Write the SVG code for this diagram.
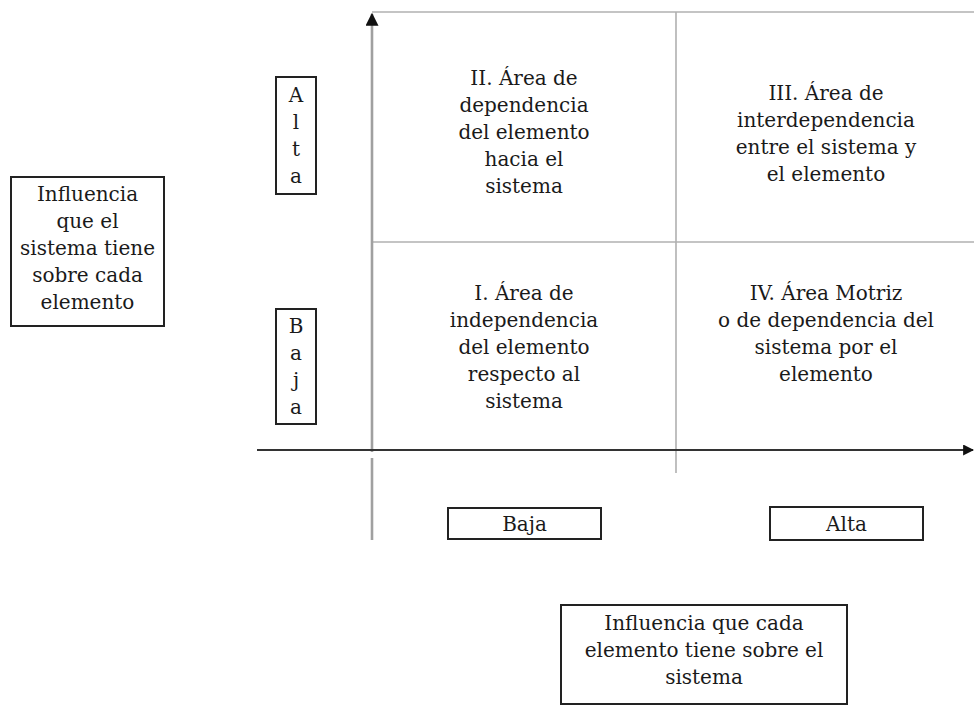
<svg xmlns="http://www.w3.org/2000/svg" width="974" height="705" viewBox="0 0 974 705">
<style>
text{font-family:"DejaVu Serif","Liberation Serif",serif;font-size:20px;fill:#1a1a1a;text-anchor:middle}
.box{fill:#fff;stroke:#222;stroke-width:2}
.grid{stroke:#b0b0b0;stroke-width:1.6;fill:none}
.vaxis{stroke:#a0a0a0;stroke-width:2.6;fill:none}
.haxis{stroke:#333;stroke-width:2.2;fill:none}
</style>
<defs>
<marker id="arr" viewBox="0 0 10 10" refX="9" refY="5" markerWidth="5" markerHeight="5" orient="auto" markerUnits="strokeWidth">
<path d="M0,0 L10,5 L0,10 z" fill="#111"/>
</marker>
</defs>
<rect width="974" height="705" fill="#fff"/>
<g id="connectors">
<line class="grid" x1="372" y1="12" x2="974" y2="12"/>
<line class="grid" x1="372" y1="242" x2="974" y2="242"/>
<line class="grid" x1="676" y1="12" x2="676" y2="473"/>
<line class="vaxis" x1="372" y1="452" x2="372" y2="14" marker-end="url(#arr)"/>
<line class="vaxis" x1="372" y1="458" x2="372" y2="540"/>
<line class="haxis" x1="257" y1="450" x2="973" y2="450" marker-end="url(#arr)"/>
</g>
<g id="quadrant-II">
<text x="524" y="85">II. Área de</text>
<text x="524" y="112">dependencia</text>
<text x="524" y="139">del elemento</text>
<text x="524" y="166">hacia el</text>
<text x="524" y="193">sistema</text>
</g>
<g id="quadrant-III">
<text x="826" y="100">III. Área de</text>
<text x="826" y="127">interdependencia</text>
<text x="826" y="154">entre el sistema y</text>
<text x="826" y="181">el elemento</text>
</g>
<g id="quadrant-I">
<text x="524" y="300">I. Área de</text>
<text x="524" y="327">independencia</text>
<text x="524" y="354">del elemento</text>
<text x="524" y="381">respecto al</text>
<text x="524" y="408">sistema</text>
</g>
<g id="quadrant-IV">
<text x="826" y="300">IV. Área Motriz</text>
<text x="826" y="327">o de dependencia del</text>
<text x="826" y="354">sistema por el</text>
<text x="826" y="381">elemento</text>
</g>
<g id="label-y-alta">
<rect class="box" x="276" y="77" width="40" height="117"/>
<text x="296" y="102">A</text>
<text x="296" y="129">l</text>
<text x="296" y="156">t</text>
<text x="296" y="183">a</text>
</g>
<g id="label-y-baja">
<rect class="box" x="276" y="309" width="40" height="115"/>
<text x="296" y="333">B</text>
<text x="296" y="360">a</text>
<text x="296" y="387">j</text>
<text x="296" y="414">a</text>
</g>
<g id="label-y-title">
<rect class="box" x="11" y="177" width="153" height="149"/>
<text x="87.5" y="201">Influencia</text>
<text x="87.5" y="228">que el</text>
<text x="87.5" y="255">sistema tiene</text>
<text x="87.5" y="282">sobre cada</text>
<text x="87.5" y="309">elemento</text>
</g>
<g id="label-x-baja">
<rect class="box" x="448" y="508" width="153" height="31"/>
<text x="524.5" y="531">Baja</text>
</g>
<g id="label-x-alta">
<rect class="box" x="770" y="507" width="153" height="33"/>
<text x="846.5" y="531">Alta</text>
</g>
<g id="label-x-title">
<rect class="box" x="561" y="605" width="286" height="99"/>
<text x="704" y="630">Influencia que cada</text>
<text x="704" y="657">elemento tiene sobre el</text>
<text x="704" y="684">sistema</text>
</g>
</svg>
